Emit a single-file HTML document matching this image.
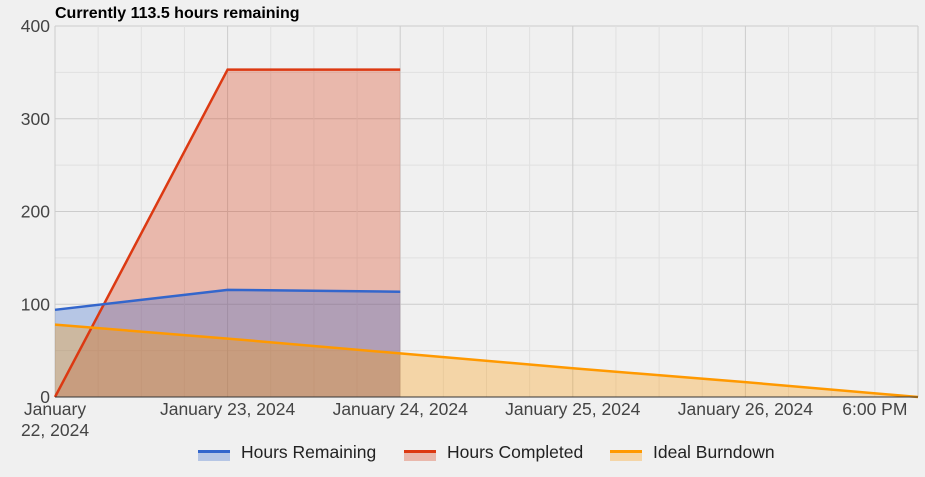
<!DOCTYPE html>
<html><head><meta charset="utf-8"><style>
body{margin:0;background:#f0f0f0;font-family:"Liberation Sans",Arial,sans-serif}
svg{display:block}
</style></head><body>
<svg id="c" width="925" height="477">
<rect width="925" height="477" fill="#f0f0f0"/>
<text x="55" y="18" font-size="16" font-weight="bold" fill="#000">Currently 113.5 hours remaining</text>
<g id="grid"></g><g id="areas"></g><g id="lines"></g><g id="axes"></g><g id="legend"></g>
</svg>
<script>
const days=[0,1,2,3,4,5];
const remainingX=[0,1,2];
const remaining=[94,115.5,113.5];
const completedX=[0,1,2];
const completed=[0,353,353];
const idealX=[0,1,2,3,4,5];
const ideal=[78,63,47,31,16,0];
const yTicks=[0,100,200,300,400];
const xLabels=["January 23, 2024","January 24, 2024","January 25, 2024","January 26, 2024"];
const NS="http://www.w3.org/2000/svg";
const X0=55,X1=918,Y0=397,Y1=26,FS=17.5;
const xs=d=>X0+d*(X1-X0)/5, ys=v=>Y0-v*(Y0-Y1)/400;
function mk(t,a,p){const e=document.createElementNS(NS,t);for(const k in a)e.setAttribute(k,a[k]);p.appendChild(e);return e;}
const g=document.getElementById('grid');
for(let v=0;v<=400;v+=50){const l=mk('line',{x1:X0,x2:X1,y1:ys(v),y2:ys(v),stroke:v%100?'#e0e0e0':'#cccccc'},g);

}
for(let d=0;d<=5;d+=0.25){const l=mk('line',{x1:xs(d),x2:xs(d),y1:Y1,y2:Y0,stroke:d%1?'#e0e0e0':'#cccccc'},g);

}
const ar=document.getElementById('areas'),ln=document.getElementById('lines');
function series(xa,va,col,name){
 let pts=xa.map((d,i)=>xs(d)+','+ys(va[i])).join(' ');
 const a=mk('polygon',{points:xs(xa[0])+','+Y0+' '+pts+' '+xs(xa[xa.length-1])+','+Y0,fill:col,'fill-opacity':0.3},ar);
 
 
 const l=mk('polyline',{points:pts,fill:'none',stroke:col,'stroke-width':2.5},ln);
 
 
}
series(completedX,completed,'#dc3912','hours-completed');
series(remainingX,remaining,'#3366cc','hours-remaining');
series(idealX,ideal,'#ff9900','ideal-burndown');
const ax=document.getElementById('axes');
let bl=mk('line',{x1:X0,x2:X1,y1:Y0,y2:Y0,stroke:'#333','stroke-width':1},ax);


yTicks.forEach(v=>{const t=mk('text',{x:X0-5,y:ys(v)+6,'text-anchor':'end','font-size':FS,fill:'#444'},ax);t.textContent=v;

});
let t0=mk('text',{x:X0,y:415,'text-anchor':'middle','font-size':FS,fill:'#444'},ax);
t0.innerHTML='<tspan x="'+X0+'" dy="0">January</tspan><tspan x="'+X0+'" dy="21">22, 2024</tspan>';


xLabels.forEach((s,i)=>{const t=mk('text',{x:xs(i+1),y:415,'text-anchor':'middle','font-size':FS,fill:'#444'},ax);t.textContent=s;

});
let t6=mk('text',{x:xs(4.75),y:415,'text-anchor':'middle','font-size':FS,fill:'#444'},ax);t6.textContent='6:00 PM';


const lg=document.getElementById('legend');
[['Hours Remaining','#3366cc',198],['Hours Completed','#dc3912',404],['Ideal Burndown','#ff9900',610]].forEach(([n,c,x])=>{
 const gg=mk('g',{},lg);
 
 
 mk('rect',{x:x,y:452,width:32,height:9,fill:c,'fill-opacity':0.3},gg);
 mk('rect',{x:x,y:450,width:32,height:3,fill:c},gg);
 const t=mk('text',{x:x+43,y:458,'font-size':FS,fill:'#222'},gg);t.textContent=n;
});
</script>
</body></html>
